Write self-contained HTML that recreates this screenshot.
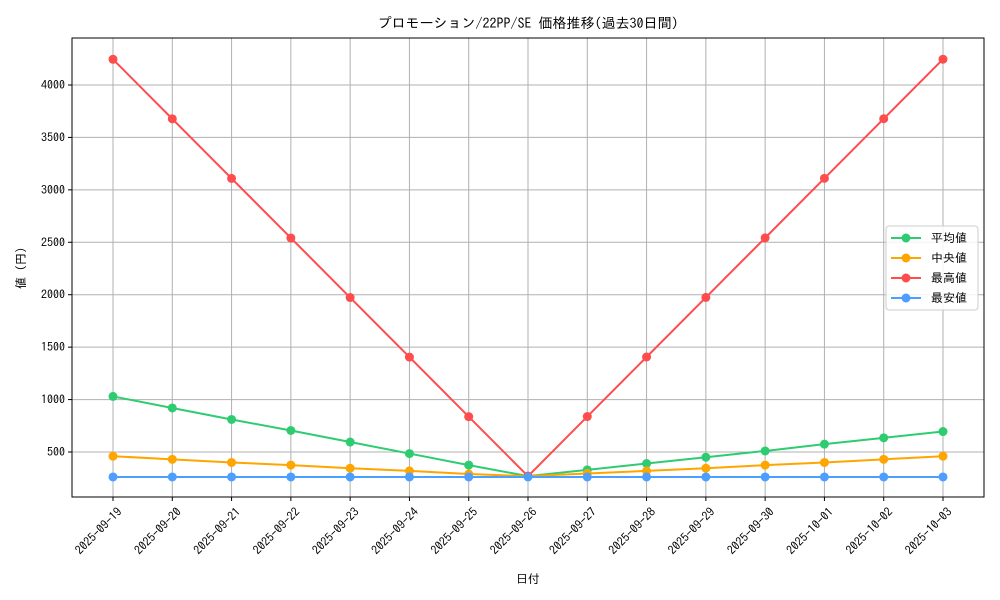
<!DOCTYPE html><html><head><meta charset="utf-8"><style>body{margin:0;background:#fff}svg{display:block}text{font-family:"IPAGothic","Noto Sans CJK JP",sans-serif;font-size:12px;fill:#000}</style></head><body>
<svg id="s" width="1000" height="600" xmlns="http://www.w3.org/2000/svg"></svg>
<script>
const s=document.getElementById('s');let h='';
const L=72,R=984,T=38,B=497;
const X=i=>113+i*(943-113)/14, Y=v=>452-(v-500)*0.10486;
const dates=[];for(let i=0;i<15;i++){let d=i<12?'2025-09-'+(19+i):'2025-10-0'+(i-11);dates.push(d)}
for(let i=0;i<15;i++){h+=`<line x1="${X(i)}" y1="${T}" x2="${X(i)}" y2="${B}" stroke="#b0b0b0" stroke-width="1"/>`;
h+=`<line x1="${X(i)}" y1="${B}" x2="${X(i)}" y2="${B+4}" stroke="#000"/>`;
h+=`<text transform="translate(${X(i)+4},${B+10}) rotate(-45)" text-anchor="end" dominant-baseline="hanging">${dates[i]}</text>`}
for(let v=500;v<=4000;v+=500){let y=Y(v);h+=`<line x1="${L}" y1="${y}" x2="${R}" y2="${y}" stroke="#b0b0b0"/><line x1="${L-4}" y1="${y}" x2="${L}" y2="${y}" stroke="#000"/><text x="${L-7}" y="${y+4}" text-anchor="end">${v}</text>`}
const red=[],g=[1030,920,810,705,595,485,375,270,330,390,450,510,575,635,695],o=[460,430,400,375,345,320,290,270,295,320,345,375,400,430,460],b=[];
for(let i=0;i<15;i++){red.push(i<=7?4245-568*i:270+568*(i-7));b.push(262)}
const ser=[[g,'#2ecc71'],[o,'#ffa500'],[red,'#ff4c4c'],[b,'#4c9eff']];
for(const [d,c] of ser){h+=`<polyline fill="none" stroke="${c}" stroke-width="2" points="${d.map((v,i)=>X(i)+','+Y(v)).join(' ')}"/>`;d.forEach((v,i)=>h+=`<circle cx="${X(i)}" cy="${Y(v)}" r="4.5" fill="${c}"/>`)}
h+=`<rect x="${L}" y="${T}" width="${R-L}" height="${B-T}" fill="none" stroke="#000"/>`;
h+=`<text x="528" y="28" text-anchor="middle" style="font-size:14px">プロモーション/22PP/SE 価格推移(過去30日間)</text>`;
h+=`<text x="528" y="583" text-anchor="middle">日付</text>`;
h+=`<text transform="translate(25,268) rotate(-90)" text-anchor="middle">値 (円)</text>`;
h+=`<rect x="886" y="226" width="92" height="84" rx="3" fill="#fff" fill-opacity="0.85" stroke="#ccc"/>`;
const lab=['平均値','中央値','最高値','最安値'];
ser.forEach(([d,c],k)=>{let y=238+k*20;h+=`<line x1="891" y1="${y}" x2="921" y2="${y}" stroke="${c}" stroke-width="2"/><circle cx="906" cy="${y}" r="4.5" fill="${c}"/><text x="931" y="${y+4}">${lab[k]}</text>`});
s.innerHTML=h;
</script></body></html>
